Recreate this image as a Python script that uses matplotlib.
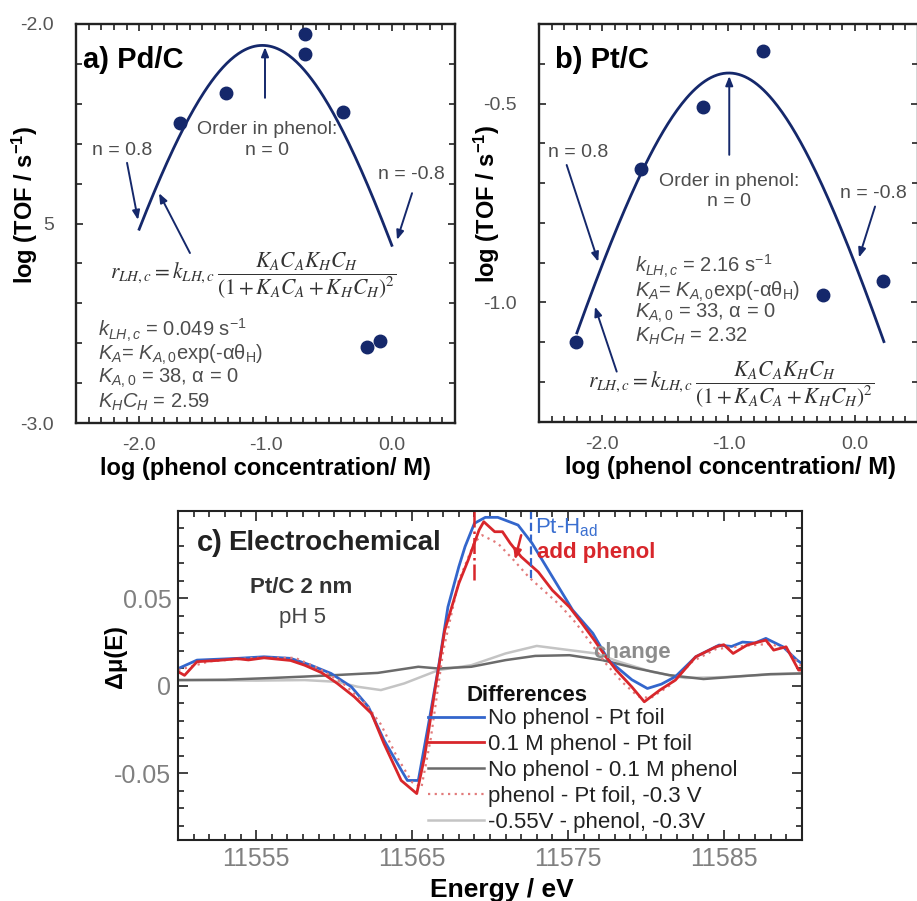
import matplotlib
matplotlib.use('Agg')
import matplotlib.pyplot as plt
import numpy as np
from matplotlib import font_manager
from matplotlib.ticker import MultipleLocator, FixedLocator

installed = {f.name for f in font_manager.fontManager.ttflist}
SANS = 'Liberation Sans' if 'Liberation Sans' in installed else 'DejaVu Sans'
NARROW = 'Liberation Sans Narrow' if 'Liberation Sans Narrow' in installed else SANS

plt.rcParams['font.family'] = [SANS, 'DejaVu Sans']
plt.rcParams['mathtext.fontset'] = 'custom'
plt.rcParams['mathtext.rm'] = SANS
plt.rcParams['mathtext.it'] = SANS + ':italic'
plt.rcParams['mathtext.bf'] = SANS + ':bold'

NAVY = '#15286b'
GREY = '#4d4d4d'

# measured rates, Pd/C
pd_logc = [-1.68, -1.31, -0.69, -0.69, -0.39, -0.20, -0.09]
pd_logtof = [-2.247, -2.174, -2.026, -2.076, -2.220, -2.810, -2.795]
# measured rates, Pt/C
pt_logc = [-2.21, -1.69, -1.20, -0.73, -0.25, 0.22]
pt_logtof = [-1.100, -0.665, -0.508, -0.369, -0.981, -0.945]

# Langmuir-Hinshelwood fit parameters
pd_k, pd_KA0, pd_KHCH = 0.049, 38, 2.59
pt_k, pt_KA0, pt_KHCH = 2.16, 33, 2.32
pd_fit_range = (-2.0, 0.0)
pt_fit_range = (-2.2, 0.23)

# XANES difference spectra
e_blue = [11550.0, 11551.2, 11552.5, 11553.8, 11555.5, 11557.2, 11558.5, 11559.8, 11561.1,
          11562.2, 11563.2, 11564.3, 11564.7, 11565.4, 11566.1, 11566.7, 11567.3, 11568.0,
          11568.4, 11569.0, 11569.7, 11570.5, 11571.8, 11572.7, 11574.0, 11575.3, 11576.6,
          11577.6, 11579.1, 11580.1, 11581.0, 11581.9, 11583.2, 11584.7, 11585.5, 11586.2,
          11587.0, 11587.7, 11588.8, 11589.7, 11590.0]
mu_blue = [0.0099, 0.0147, 0.0152, 0.0157, 0.0166, 0.0157, 0.0118, 0.0071, -0.0005,
           -0.012, -0.031, -0.048, -0.054, -0.054, -0.0196, 0.0109, 0.045, 0.068,
           0.0795, 0.0928, 0.0962, 0.0962, 0.0918, 0.0814, 0.0623, 0.0433, 0.030,
           0.0147, 0.0035, -0.0015, 0.001, 0.0053, 0.0166, 0.0233, 0.0225, 0.025,
           0.0245, 0.0271, 0.0223, 0.0147, 0.0128]

e_red = [11550.0, 11550.4, 11551.2, 11552.5, 11553.8, 11554.5, 11555.5, 11557.2, 11558.1,
         11559.2, 11560.2, 11561.3, 11562.4, 11563.2, 11564.3, 11565.3, 11565.8, 11566.5,
         11567.1, 11568.0, 11568.6, 11569.3, 11569.6, 11570.3, 11570.8, 11571.3, 11572.0,
         11573.1, 11574.0, 11575.1, 11575.9, 11576.7, 11577.4, 11578.1, 11579.1, 11579.9,
         11580.9, 11581.9, 11583.2, 11584.5, 11585.0, 11585.6, 11586.5, 11587.7, 11588.2,
         11589.0, 11589.8, 11590.0]
mu_red = [0.008, 0.006, 0.0138, 0.0145, 0.0155, 0.0148, 0.016, 0.0145, 0.0118,
          0.0075, 0.0014, -0.0063, -0.0158, -0.033, -0.054, -0.0615, -0.0406, -0.0006,
          0.0318, 0.0585, 0.0718, 0.089, 0.0937, 0.088, 0.088, 0.0814, 0.0737,
          0.065, 0.0546, 0.045, 0.0357, 0.026, 0.017, 0.009, -0.0006, -0.0091,
          -0.0024, 0.0033, 0.0166, 0.0223, 0.0235, 0.0185, 0.0233, 0.0261, 0.0204,
          0.0223, 0.009, 0.009]

e_dot = [11550.0, 11552.0, 11555.0, 11557.5, 11559.0, 11560.5, 11562.0, 11563.0, 11564.0,
         11565.0, 11565.6, 11566.2, 11567.0, 11568.0, 11569.0, 11569.5, 11570.5, 11571.5,
         11572.5, 11573.5, 11574.5, 11575.5, 11576.5, 11577.5, 11578.5, 11579.5, 11580.3,
         11581.5, 11583.0, 11584.5, 11586.5, 11588.0, 11589.0, 11590.0]
mu_dot = [0.009, 0.014, 0.016, 0.016, 0.010, 0.002, -0.010, -0.022, -0.040,
          -0.055, -0.058, -0.030, 0.020, 0.060, 0.082, 0.086, 0.0814, 0.072,
          0.062, 0.054, 0.046, 0.036, 0.024, 0.012, 0.002, -0.006, -0.007,
          0.000, 0.014, 0.021, 0.023, 0.024, 0.021, 0.011]

e_dark = [11550, 11553, 11556, 11558.1, 11560.2, 11562.8, 11565.4, 11566.7, 11568.8, 11571.0,
          11572.9, 11575.1, 11577.2, 11579.4, 11581.5, 11583.7, 11585.8, 11588.0, 11590.0]
mu_dark = [0.0033, 0.0035, 0.0045, 0.0053, 0.0062, 0.0074, 0.0109, 0.0099, 0.0109, 0.0147,
           0.0171, 0.0175, 0.0147, 0.010, 0.0061, 0.0039, 0.0053, 0.0067, 0.0071]

e_light = [11550, 11555, 11558.1, 11560.2, 11561.5, 11563.0, 11564.5, 11566.7, 11568.8,
           11571.0, 11573.0, 11575.1, 11576.8, 11578.3, 11580.4, 11582.5, 11585.0, 11588.0, 11590.0]
mu_light = [0.0033, 0.0030, 0.0033, 0.0023, -0.0005, -0.0024, 0.0014, 0.0090, 0.0118,
            0.0185, 0.0228, 0.0204, 0.0185, 0.0137, 0.0080, 0.0045, 0.0050, 0.0065, 0.0070]

e_pt_had_peak = 11569.0
e_pt_had_shift = 11572.6

legend_labels = ['No phenol - Pt foil', '0.1 M phenol - Pt foil', 'No phenol - 0.1 M phenol',
                 'phenol - Pt foil, -0.3 V', '-0.55V - phenol, -0.3V']

RATE_LAW = r'$r_{LH,c} = k_{LH,c}\,\dfrac{K_A C_A K_H C_H}{(1 + K_A C_A + K_H C_H)^2}$'


def lh_rate(logc, k, KA, KHCH):
    c = 10.0 ** logc
    return k * KA * c * KHCH / (1 + KA * c + KHCH) ** 2


def arrow(ax, tail, head, color=NAVY, lw=1.4):
    ax.annotate('', xy=head, xytext=tail,
                arrowprops=dict(arrowstyle='-|>,head_length=0.55,head_width=0.22',
                                color=color, lw=lw, shrinkA=0, shrinkB=0))


def kinetics_panel(ax, logc, logtof, k, KA0, KHCH, rng, ylim, yticks, ylabels):
    xs = np.linspace(rng[0], rng[1], 200)
    ax.plot(xs, np.log10(lh_rate(xs, k, KA0, KHCH)), color=NAVY, lw=2.0)
    ax.plot(logc, logtof, 'o', color=NAVY, ms=9, zorder=3)
    ax.set_xlim(-2.5, 0.5)
    ax.set_ylim(*ylim)
    ax.xaxis.set_major_locator(FixedLocator([-2.0, -1.0, 0.0]))
    ax.set_xticklabels(['-2.0', '-1.0', '0.0'])
    ax.xaxis.set_minor_locator(MultipleLocator(0.1))
    ax.yaxis.set_major_locator(FixedLocator(yticks))
    ax.set_yticklabels(ylabels)
    ax.yaxis.set_minor_locator(MultipleLocator(0.1))
    ax.tick_params(which='both', direction='in', top=True, right=True, color='#222222',
                   width=1.2, labelcolor='#555555', labelsize=14)
    ax.tick_params(which='major', length=5)
    ax.tick_params(which='minor', length=4)
    ax.tick_params(axis='x', pad=10)
    ax.tick_params(axis='y', pad=16)
    for lab in ax.get_xticklabels() + ax.get_yticklabels():
        lab.set_family([NARROW, 'DejaVu Sans'])
    for sp in ax.spines.values():
        sp.set_linewidth(1.7)
        sp.set_color('#222222')
    ax.set_xlabel('log (phenol concentration/ M)', fontsize=17, fontweight='bold',
                  family=[NARROW, 'DejaVu Sans'], va='center')
    ax.set_ylabel('log (TOF / s$^{\\mathbf{-1}}$)', fontsize=17, fontweight='bold', va='center')


fig = plt.figure(figsize=(9.17, 9.01), dpi=100)
ax_a = fig.add_axes([76 / 917, 1 - 423 / 901, 379 / 917, 399 / 901])
ax_b = fig.add_axes([539 / 917, 1 - 421.7 / 901, 379 / 917, 397.7 / 901])
ax_c = fig.add_axes([178.3 / 917, 1 - 840 / 901, 623.4 / 917, 329.3 / 901])

# ---- a) Pd/C
kinetics_panel(ax_a, pd_logc, pd_logtof, pd_k, pd_KA0, pd_KHCH, pd_fit_range,
               (-3.0, -2.0), [-2.0, -2.5, -3.0], ['-2.0', '5', '-3.0'])
ax_a.xaxis.set_label_coords(0.499, -0.113)
ax_a.yaxis.set_label_coords(-0.135, 0.546)
ax_a.text(-2.445, -2.09, 'a) Pd/C', fontsize=21, fontweight='bold', va='center')
ax_a.text(-2.373, -2.316, 'n = 0.8', fontsize=14, color=GREY, va='center')
ax_a.text(-0.988, -2.291, 'Order in phenol:\nn = 0', fontsize=14, color=GREY,
          ha='center', va='center', linespacing=1.25)
ax_a.text(-0.109, -2.378, 'n = -0.8', fontsize=14, color=GREY, va='center')
arrow(ax_a, (-2.096, -2.348), (-2.009, -2.491))
arrow(ax_a, (-1.598, -2.574), (-1.843, -2.424))
arrow(ax_a, (-1.004, -2.185), (-1.004, -2.058))
arrow(ax_a, (0.160, -2.424), (0.041, -2.541))
ax_a.text(-2.231, -2.632, RATE_LAW, math_fontfamily='stix', fontsize=15.5,
          color='#333333', va='center')
pd_params = ['$k_{LH,c}$ = %g s$^{-1}$' % pd_k,
             r'$K_A$= $K_{A,0}$exp(-αθ$_\mathrm{H}$)',
             '$K_{A,0}$ = %d, α = 0' % pd_KA0,
             '$K_H C_H$ = %.2f' % pd_KHCH]
for line, yy in zip(pd_params, [-2.767, -2.830, -2.888, -2.948]):
    ax_a.text(-2.326, yy, line, fontsize=14.5, color=GREY, va='center')

# ---- b) Pt/C
kinetics_panel(ax_b, pt_logc, pt_logtof, pt_k, pt_KA0, pt_KHCH, pt_fit_range,
               (-1.3, -0.3), [-0.5, -1.0], ['-0.5', '-1.0'])
ax_b.xaxis.set_label_coords(0.504, -0.116)
ax_b.yaxis.set_label_coords(-0.137, 0.549)
ax_b.text(-2.373, -0.3905, 'b) Pt/C', fontsize=21, fontweight='bold', va='center')
ax_b.text(-2.429, -0.624, 'n = 0.8', fontsize=14, color=GREY, va='center')
ax_b.text(-0.994, -0.722, 'Order in phenol:\nn = 0', fontsize=14, color=GREY,
          ha='center', va='center', linespacing=1.25)
ax_b.text(-0.117, -0.725, 'n = -0.8', fontsize=14, color=GREY, va='center')
arrow(ax_b, (-2.281, -0.6545), (-2.031, -0.8977))
arrow(ax_b, (-1.885, -1.174), (-2.057, -1.011))
arrow(ax_b, (-0.994, -0.629), (-0.994, -0.431))
arrow(ax_b, (0.160, -0.759), (0.033, -0.887))
pt_params = ['$k_{LH,c}$ = %.2f s$^{-1}$' % pt_k,
             r'$K_A$= $K_{A,0}$exp(-αθ$_\mathrm{H}$)',
             '$K_{A,0}$ = %d, α = 0' % pt_KA0,
             '$K_H C_H$ = %.2f' % pt_KHCH]
for line, yy in zip(pt_params, [-0.910, -0.973, -1.027, -1.086]):
    ax_b.text(-1.74, yy, line, fontsize=14.5, color=GREY, va='center')
ax_b.text(-2.112, -1.207, RATE_LAW, math_fontfamily='stix', fontsize=15.5,
          color='#333333', va='center')

# ---- c) electrochemical XANES differences
BLUE, RED, DARK, PINK, LIGHT = '#3366cc', '#d8262b', '#6b6b6b', '#e27b7b', '#c4c4c4'
h_light, = ax_c.plot(e_light, mu_light, color=LIGHT, lw=1.8)
h_dark, = ax_c.plot(e_dark, mu_dark, color=DARK, lw=1.8)
h_blue, = ax_c.plot(e_blue, mu_blue, color=BLUE, lw=2.0)
h_dot, = ax_c.plot(e_dot, mu_dot, color=PINK, lw=1.6, ls=(0, (1, 2)))
h_red, = ax_c.plot(e_red, mu_red, color=RED, lw=2.0)

ax_c.plot([e_pt_had_peak, e_pt_had_peak], [0.1, 0.0586], color=RED, lw=1.8, ls='-.')
ax_c.plot([e_pt_had_shift, e_pt_had_shift], [0.1, 0.0603], color=BLUE, lw=1.6, ls='--')
arrow(ax_c, (11572.0, 0.086), (11571.6, 0.072), color=RED, lw=1.8)

ax_c.set_xlim(11550, 11590)
ax_c.set_ylim(-0.088, 0.1)
ax_c.xaxis.set_major_locator(FixedLocator([11555, 11565, 11575, 11585]))
ax_c.xaxis.set_minor_locator(MultipleLocator(1))
ax_c.yaxis.set_major_locator(FixedLocator([0.05, 0.0, -0.05]))
ax_c.set_yticklabels(['0.05', '0', '-0.05'])
ax_c.yaxis.set_minor_locator(MultipleLocator(0.01))
ax_c.tick_params(which='both', direction='in', top=True, right=True, color='#222222',
                 width=1.2, labelcolor='#808080', labelsize=18)
ax_c.tick_params(which='major', length=7, pad=5)
ax_c.tick_params(which='minor', length=4)
for lab in ax_c.get_xticklabels() + ax_c.get_yticklabels():
    lab.set_family([NARROW, 'DejaVu Sans'])
for sp in ax_c.spines.values():
    sp.set_linewidth(1.5)
    sp.set_color('#222222')
ax_c.set_xlabel('Energy / eV', fontsize=19, fontweight='bold', va='center')
ax_c.xaxis.set_label_coords(0.519, -0.152)
ax_c.set_ylabel('Δμ(E)', fontsize=17, fontweight='bold', va='center')
ax_c.yaxis.set_label_coords(-0.1015, 0.557)

ax_c.text(11551.2, 0.0815, 'c)', fontsize=21, fontweight='bold', color='#222222', va='center')
ax_c.text(11553.2, 0.0815, 'Electrochemical', fontsize=20, fontweight='bold', color='#222222',
          va='center')
ax_c.text(11557.9, 0.0564, 'Pt/C 2 nm', fontsize=16, fontweight='bold', color='#333333',
          ha='center', va='center')
ax_c.text(11558.0, 0.0393, 'pH 5', fontsize=16, color='#444444', ha='center', va='center')
ax_c.text(11572.9, 0.0901, r'Pt-H$_\mathrm{ad}$', fontsize=16, color='#3a6fd0', va='center')
ax_c.text(11573.0, 0.0764, 'add phenol', fontsize=16, fontweight='bold', color=RED, va='center')
ax_c.text(11576.6, 0.0193, 'change', fontsize=16, fontweight='bold', color='#8c8c8c',
          va='center')
ax_c.text(11568.5, -0.0053, 'Differences', fontsize=16, fontweight='bold', color='#111111',
          va='center')
ax_c.legend([h_blue, h_red, h_dark, h_dot, h_light], legend_labels,
            loc='upper left', bbox_to_anchor=(0.4005, 0.40), frameon=False, fontsize=16,
            handlelength=2.5, handletextpad=0.2, labelspacing=0.22, borderpad=0,
            borderaxespad=0, labelcolor='#222222')

fig.savefig('out.png', dpi=100)
